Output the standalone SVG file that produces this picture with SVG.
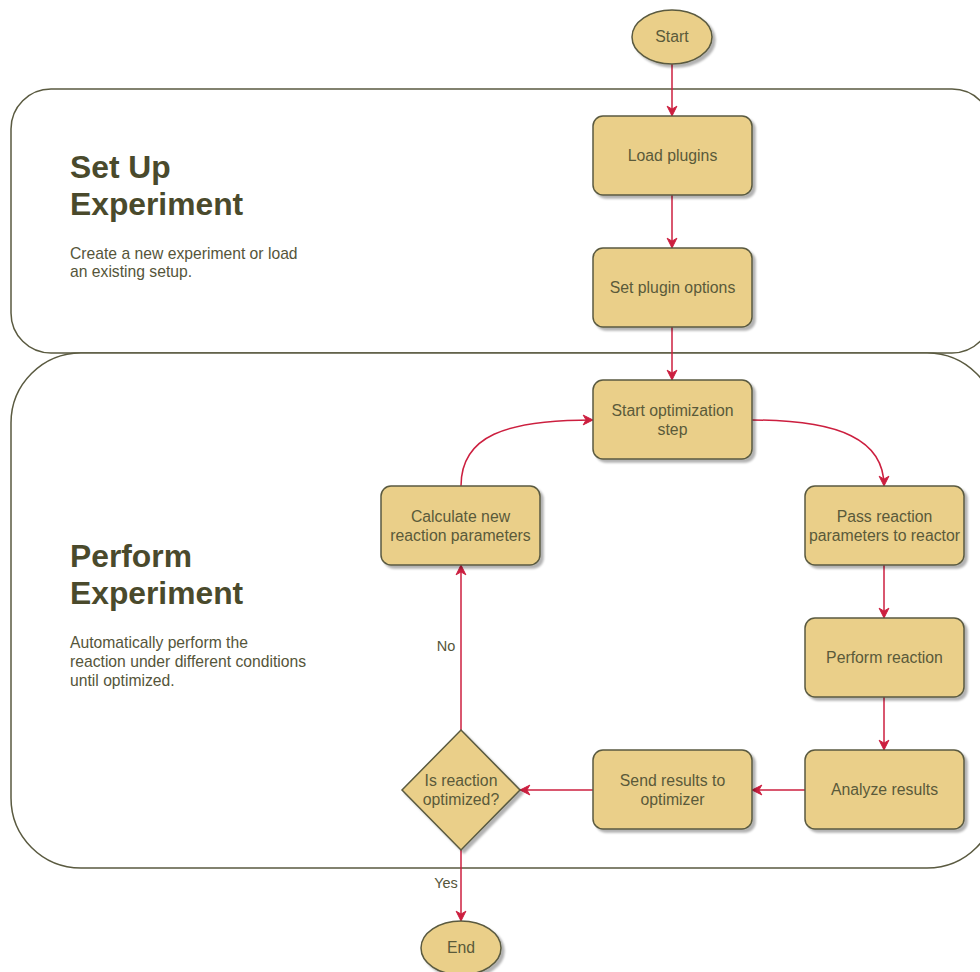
<svg xmlns="http://www.w3.org/2000/svg" width="980" height="972" viewBox="0 0 980 972">
<defs>
<style>
.lane{fill:#ffffff;stroke:#5a5a40;stroke-width:1.5}
.node{fill:#eacf89;stroke:#5a5a40;stroke-width:1.5;filter:url(#sh)}
.t{font-family:"Liberation Sans",Arial,sans-serif;font-size:15.8px;fill:#5a5a3a;text-anchor:middle}
.title{font-family:"Liberation Sans",Arial,sans-serif;font-size:31.8px;font-weight:bold;fill:#4a4a2c}
.desc{font-family:"Liberation Sans",Arial,sans-serif;font-size:15.7px;fill:#55553a}
.lbl{font-family:"Liberation Sans",Arial,sans-serif;font-size:14.5px;fill:#55553a;text-anchor:middle}
.edge{fill:none;stroke:#cc1f3f;stroke-width:1.5;marker-end:url(#arr)}
</style>
<filter id="sh" x="-10%" y="-10%" width="130%" height="130%">
<feDropShadow dx="3" dy="3" stdDeviation="1" flood-color="#000000" flood-opacity="0.3"/>
</filter>
<marker id="arr" viewBox="0 0 10 10" refX="10" refY="5" markerWidth="7" markerHeight="7" markerUnits="userSpaceOnUse" orient="auto" overflow="visible">
<path d="M0,0 L10,5 L0,10 L3,5 Z" fill="#cc1f3f" stroke="#cc1f3f" stroke-width="1" transform="scale(1.4) translate(-2.9,-1.45)"/>
</marker>
</defs>
<rect width="980" height="972" fill="#ffffff"/>
<g id="lane-setup">
<rect class="lane" x="11" y="89" width="981" height="264" rx="40" ry="40"/>
<text class="title" x="70" y="178">Set Up</text>
<text class="title" x="70" y="215">Experiment</text>
<text class="desc" x="70" y="259">Create a new experiment or load</text>
<text class="desc" x="70" y="277">an existing setup.</text>
</g>
<g id="lane-perform">
<rect class="lane" x="11" y="353" width="986" height="515" rx="70" ry="70"/>
<text class="title" x="70" y="567">Perform</text>
<text class="title" x="70" y="604">Experiment</text>
<text class="desc" x="70" y="648">Automatically perform the</text>
<text class="desc" x="70" y="667">reaction under different conditions</text>
<text class="desc" x="70" y="686">until optimized.</text>
</g>
<g id="connectors">
<line class="edge" x1="672" y1="64" x2="672" y2="116"/>
<line class="edge" x1="672" y1="195" x2="672" y2="248"/>
<line class="edge" x1="672" y1="327" x2="672" y2="380"/>
<path class="edge" d="M752,420 C840,420 884,440 884,486"/>
<line class="edge" x1="884" y1="565" x2="884" y2="618"/>
<line class="edge" x1="884" y1="697" x2="884" y2="750"/>
<line class="edge" x1="805" y1="790" x2="752" y2="790"/>
<line class="edge" x1="593" y1="790" x2="520" y2="790"/>
<line class="edge" x1="461" y1="730" x2="461" y2="565"/>
<path class="edge" d="M461,486 C461,436 505,420 593,420"/>
<line class="edge" x1="461" y1="850" x2="461" y2="921"/>
<text class="lbl" x="446" y="651">No</text>
<text class="lbl" x="446" y="888">Yes</text>
</g>
<g id="start">
<ellipse class="node" cx="672" cy="37" rx="40" ry="27"/>
<text class="t" x="672" y="42">Start</text>
</g>
<g id="load-plugins">
<rect class="node" x="593" y="116" width="159" height="79" rx="10"/>
<text class="t" x="672.5" y="161">Load plugins</text>
</g>
<g id="set-plugin-options">
<rect class="node" x="593" y="248" width="159" height="79" rx="10"/>
<text class="t" x="672.5" y="293">Set plugin options</text>
</g>
<g id="start-optimization">
<rect class="node" x="593" y="380" width="159" height="79" rx="10"/>
<text class="t" x="672.5" y="416">Start optimization</text>
<text class="t" x="672.5" y="435">step</text>
</g>
<g id="calculate">
<rect class="node" x="381" y="486" width="159" height="79" rx="10"/>
<text class="t" x="460.5" y="522">Calculate new</text>
<text class="t" x="460.5" y="541">reaction parameters</text>
</g>
<g id="pass">
<rect class="node" x="805" y="486" width="159" height="79" rx="10"/>
<text class="t" x="884.5" y="522">Pass reaction</text>
<text class="t" x="884.5" y="541">parameters to reactor</text>
</g>
<g id="perform-reaction">
<rect class="node" x="805" y="618" width="159" height="79" rx="10"/>
<text class="t" x="884.5" y="663">Perform reaction</text>
</g>
<g id="analyze">
<rect class="node" x="805" y="750" width="159" height="79" rx="10"/>
<text class="t" x="884.5" y="795">Analyze results</text>
</g>
<g id="send">
<rect class="node" x="593" y="750" width="159" height="79" rx="10"/>
<text class="t" x="672.5" y="786">Send results to</text>
<text class="t" x="672.5" y="805">optimizer</text>
</g>
<g id="decision">
<polygon class="node" points="461,730 520,790 461,850 402,790"/>
<text class="t" x="461" y="786">Is reaction</text>
<text class="t" x="461" y="805">optimized?</text>
</g>
<g id="end">
<ellipse class="node" cx="461" cy="948" rx="40" ry="27"/>
<text class="t" x="461" y="953">End</text>
</g>
</svg>
